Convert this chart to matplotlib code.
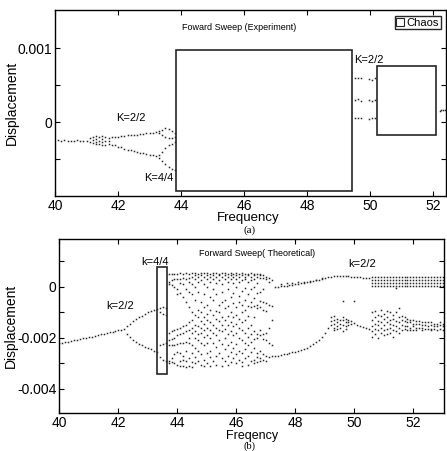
import matplotlib
matplotlib.use("Agg")
import matplotlib.pyplot as plt
from matplotlib.patches import Rectangle
from matplotlib.lines import Line2D
import numpy as np

plt.rcParams["font.family"] = ["Liberation Sans", "DejaVu Sans"]

# ----------------------------------------------------------------------
# (a) experiment, displacement in units of 1e-3
# ----------------------------------------------------------------------
exp_p1_f = [40.1, 40.2, 40.3, 40.4, 40.5, 40.6, 40.7, 40.8, 40.9, 41.0]
exp_p1_y = [-0.24, -0.25, -0.24, -0.25, -0.26, -0.25, -0.24, -0.25, -0.26, -0.25]

exp_mix_f = [41.1, 41.2, 41.3, 41.4, 41.5, 41.6, 41.7, 41.8]
exp_mix_y = [[-0.22, -0.27], [-0.2, -0.24, -0.28], [-0.19, -0.23, -0.27, -0.3],
             [-0.2, -0.25, -0.3], [-0.19, -0.23, -0.27, -0.31], [-0.2, -0.26, -0.31],
             [-0.21, -0.25, -0.3], [-0.2, -0.31]]

exp_p2_f = [41.9, 42.0, 42.1, 42.2, 42.3, 42.4, 42.5, 42.6, 42.7, 42.8, 42.9, 43.0, 43.1, 43.2]
exp_p2_hi = [-0.2, -0.2, -0.19, -0.19, -0.18, -0.18, -0.17, -0.17, -0.16, -0.16, -0.15, -0.15, -0.14, -0.13]
exp_p2_lo = [-0.31, -0.33, -0.34, -0.36, -0.37, -0.38, -0.39, -0.4, -0.41, -0.42, -0.43, -0.44, -0.45, -0.46]

exp_p4_f = [43.3, 43.4, 43.5, 43.6, 43.7, 43.8]
exp_p4_a = [-0.12, -0.1, -0.08, -0.09, -0.12, -0.15]
exp_p4_b = [-0.15, -0.17, -0.2, -0.22, -0.22, -0.2]
exp_p4_c = [-0.44, -0.4, -0.35, -0.31, -0.29, -0.27]
exp_p4_d = [-0.48, -0.52, -0.57, -0.6, -0.63, -0.64]

exp_r_f = [49.5, 49.6, 49.7, 49.95, 50.05, 50.15, 49.5, 49.6, 49.7, 49.95, 50.05, 50.15,
           49.5, 49.6, 49.7, 49.95, 50.05, 50.15, 52.2, 52.25, 52.3, 52.35]
exp_r_y = [0.6, 0.59, 0.6, 0.58, 0.57, 0.6, 0.3, 0.31, 0.29, 0.3, 0.28, 0.3,
           0.06, 0.05, 0.05, 0.04, 0.06, 0.05, 0.15, 0.16, 0.16, 0.17]

# ----------------------------------------------------------------------
# (b) theory, displacement in units of 1e-3
# ----------------------------------------------------------------------
th_p1_f = [40.0, 40.1, 40.2, 40.3, 40.4, 40.5, 40.6, 40.7, 40.8, 40.9, 41.0, 41.1,
           41.2, 41.3, 41.4, 41.5, 41.6, 41.7, 41.8, 41.9, 42.0, 42.1, 42.2]
th_p1_y = [-2.22, -2.19, -2.17, -2.15, -2.12, -2.1, -2.07, -2.05, -2.02, -2.0, -1.97, -1.95,
           -1.92, -1.9, -1.87, -1.85, -1.82, -1.79, -1.77, -1.74, -1.71, -1.68, -1.65]

th_p2_f = [42.3, 42.4, 42.5, 42.6, 42.7, 42.8, 42.9, 43.0, 43.1, 43.2, 43.3]
th_p2_hi = [-1.55, -1.45, -1.35, -1.27, -1.2, -1.13, -1.06, -1.0, -0.95, -0.9, -0.86]
th_p2_lo = [-1.85, -1.98, -2.08, -2.16, -2.23, -2.3, -2.36, -2.41, -2.45, -2.5, -2.54]

th_p4_f = [43.4, 43.5, 43.6]
th_p4_y = [[-0.82, -1.0, -2.3, -2.75], [-0.8, -1.05, -2.25, -2.85], [-0.85, -1.1, -2.2, -2.9]]

chaos_f = [43.7, 43.8, 43.9, 44.0, 44.1, 44.2, 44.3, 44.4, 44.5, 44.6, 44.7, 44.8,
           44.9, 45.0, 45.1, 45.2, 45.3, 45.4, 45.5, 45.6, 45.7, 45.8, 45.9, 46.0,
           46.1, 46.2, 46.3, 46.4, 46.5, 46.6, 46.7, 46.8, 46.9, 47.0, 47.1, 47.2]
chaos_y = [
    [0.5, 0.2, 0.1, -1.8, -2.1, -2.3, -2.9, -3.0],
    [0.5, 0.25, 0.05, -1.75, -2.05, -2.3, -2.8, -2.95],
    [0.5, 0.3, 0.0, -1.7, -2.0, -2.3, -2.65, -3.0],
    [0.5, 0.3, -0.1, -0.3, -1.65, -1.9, -2.25, -2.55, -3.05],
    [0.55, 0.3, 0.15, -0.25, -1.6, -1.85, -2.2, -2.6, -2.9, -3.1],
    [0.5, 0.35, 0.1, -0.4, -1.55, -1.8, -2.2, -2.7, -2.85, -3.1],
    [0.55, 0.3, -0.1, -0.6, -1.5, -1.75, -2.15, -2.5, -2.9, -3.15],
    [0.5, 0.35, 0.2, -0.2, -0.8, -1.4, -1.7, -2.0, -2.2, -2.8, -3.1],
    [0.55, 0.4, 0.1, -0.3, -1.0, -1.3, -1.6, -1.8, -2.3, -2.6, -2.95, -3.15],
    [0.55, 0.45, 0.3, 0.0, -0.5, -1.1, -1.5, -1.75, -2.0, -2.4, -2.75, -3.0],
    [0.5, 0.4, 0.2, -0.2, -0.9, -1.2, -1.55, -1.85, -2.1, -2.5, -2.9],
    [0.55, 0.45, 0.25, -0.6, -1.0, -1.35, -1.6, -1.8, -2.2, -2.65, -3.05],
    [0.55, 0.4, 0.1, -0.3, -0.8, -1.2, -1.45, -1.7, -1.95, -2.3, -2.85, -3.1],
    [0.55, 0.45, 0.3, 0.0, -0.7, -1.05, -1.3, -1.6, -1.9, -2.2, -2.6, -3.0],
    [0.5, 0.4, 0.2, -0.4, -0.9, -1.4, -1.7, -2.0, -2.5, -2.75, -3.1],
    [0.55, 0.45, 0.3, -0.1, -0.5, -1.1, -1.5, -1.8, -2.2, -2.9],
    [0.55, 0.4, 0.15, -0.3, -0.95, -1.25, -1.6, -1.9, -2.35, -2.7, -3.05],
    [0.5, 0.45, 0.25, -0.7, -1.0, -1.35, -1.7, -2.1, -2.6],
    [0.55, 0.4, 0.1, -0.2, -0.6, -1.2, -1.5, -1.75, -2.25, -2.8, -3.1],
    [0.55, 0.45, 0.3, -0.5, -0.85, -1.3, -1.65, -2.0, -2.45, -2.9],
    [0.5, 0.4, 0.2, -0.1, -0.75, -1.15, -1.5, -1.85, -2.3, -2.7, -3.05],
    [0.55, 0.45, 0.3, -0.4, -1.0, -1.4, -1.75, -2.15, -2.55, -2.95],
    [0.5, 0.4, 0.15, -0.25, -0.65, -1.2, -1.55, -1.9, -2.4, -2.8],
    [0.55, 0.45, 0.3, 0.0, -0.8, -1.1, -1.45, -1.8, -2.25, -2.65, -3.0],
    [0.5, 0.4, 0.2, -0.35, -0.6, -1.25, -1.6, -2.0, -2.5, -2.85],
    [0.55, 0.45, 0.25, -0.15, -0.7, -1.0, -1.4, -1.7, -2.1, -2.6, -2.95, -3.1],
    [0.5, 0.4, 0.3, -0.05, -0.5, -0.9, -1.3, -1.8, -2.2, -2.45, -2.8],
    [0.5, 0.45, 0.2, -0.3, -0.75, -1.15, -1.6, -1.95, -2.3, -2.7, -3.05],
    [0.55, 0.4, 0.25, -0.1, -0.6, -0.8, -1.5, -1.85, -2.15, -2.55, -2.9],
    [0.5, 0.45, 0.3, 0.0, -0.45, -0.75, -1.2, -1.75, -2.05, -2.4, -2.85, -3.0],
    [0.5, 0.4, 0.15, -0.25, -0.7, -0.85, -1.85, -2.0, -2.6, -2.75, -2.95],
    [0.5, 0.45, 0.35, -0.2, -0.55, -0.8, -1.7, -1.9, -2.5, -2.8, -2.9],
    [0.45, 0.35, -0.1, -0.6, -0.9, -1.85, -2.05, -2.65, -2.85],
    [0.4, 0.3, -0.65, -0.95, -1.8, -2.1, -2.7, -2.9],
    [0.35, 0.2, -0.7, -1.6, -2.2, -2.75],
    [0.25, -0.75, -1.3, -2.3, -2.7],
]

th_up_f = [47.3, 47.4, 47.5, 47.6, 47.7, 47.8, 47.9, 48.0, 48.1, 48.2, 48.3, 48.4,
           48.5, 48.6, 48.7, 48.8, 48.9, 49.0, 49.1, 49.2, 49.3, 49.4, 49.5, 49.6,
           49.7, 49.8, 49.9, 50.0, 50.1, 50.2, 50.3, 50.4, 50.5]
th_up_y = [0.0, 0.0, 0.02, 0.03, 0.04, 0.05, 0.07, 0.09, 0.11, 0.13, 0.15, 0.17,
           0.2, 0.22, 0.25, 0.28, 0.31, 0.34, 0.37, 0.4, 0.42, 0.42, 0.42, 0.42,
           0.41, 0.41, 0.4, 0.39, 0.38, 0.37, 0.36, 0.35, 0.35]
th_up2_f = [47.5, 47.7, 47.9, 48.1, 48.3, 48.5, 48.7, 48.9]
th_up2_y = [0.12, 0.14, 0.16, 0.18, 0.2, 0.24, 0.28, 0.33]

th_band_f = [50.6, 50.7, 50.8, 50.9, 51.0, 51.1, 51.2, 51.3, 51.4, 51.5, 51.6, 51.7,
             51.8, 51.9, 52.0, 52.1, 52.2, 52.3, 52.4, 52.5, 52.6, 52.7, 52.8, 52.9, 53.0]
th_band_y = [0.4, 0.28, 0.16, 0.04]

th_lo_f = [47.3, 47.4, 47.5, 47.6, 47.7, 47.8, 47.9, 48.0, 48.1, 48.2, 48.3, 48.4,
           48.5, 48.6, 48.7, 48.8, 48.9, 49.0, 49.1]
th_lo_y = [-2.72, -2.7, -2.67, -2.65, -2.62, -2.6, -2.57, -2.55, -2.52, -2.48, -2.43, -2.38,
           -2.32, -2.25, -2.17, -2.07, -1.95, -1.8, -1.6]

th_c2_f = [49.2, 49.3, 49.4, 49.5, 49.6, 49.7, 49.8, 49.9]
th_c2_y = [[-1.2, -1.35, -1.5], [-1.15, -1.3, -1.45, -1.6, -1.7], [-1.25, -1.4, -1.55, -1.65],
           [-1.3, -1.45, -1.6], [-1.2, -1.3, -1.5, -1.75], [-1.25, -1.4, -1.55, -1.65],
           [-1.3, -1.4, -1.5], [-1.35, -1.45]]

th_tail_f = [50.0, 50.1, 50.2, 50.3, 50.4, 50.5]
th_tail_y = [-1.42, -1.48, -1.53, -1.58, -1.62, -1.66]

th_c3_f = [50.6, 50.7, 50.8, 50.9, 51.0, 51.1, 51.2, 51.3, 51.4, 51.5, 51.6, 51.7]
th_c3_y = [[-1.0, -1.3, -1.55, -1.75, -1.95], [-0.95, -1.2, -1.45, -1.65, -1.85],
           [-1.1, -1.35, -1.5, -1.7, -2.0], [-0.9, -1.15, -1.4, -1.6, -1.8],
           [-1.05, -1.25, -1.5, -1.7, -1.9], [-0.95, -1.2, -1.4, -1.65, -1.85],
           [-1.0, -1.3, -1.45, -1.6, -1.8], [-1.1, -1.25, -1.5, -1.7, -1.95],
           [-1.0, -1.35, -1.55, -1.75], [-0.85, -1.2, -1.4, -1.6, -1.8],
           [-1.15, -1.3, -1.5, -1.7], [-1.2, -1.35, -1.55, -1.65]]

th_c4_f = [51.8, 51.9, 52.0, 52.1, 52.2, 52.3, 52.4, 52.5, 52.6, 52.7, 52.8, 52.9, 53.0]
th_c4_y = [[-1.25, -1.4, -1.55, -1.7], [-1.3, -1.4, -1.6, -1.7], [-1.3, -1.45, -1.55, -1.7],
           [-1.35, -1.45, -1.6, -1.7], [-1.35, -1.45, -1.6], [-1.4, -1.5, -1.6, -1.7],
           [-1.4, -1.5, -1.65], [-1.4, -1.55, -1.65], [-1.4, -1.5, -1.65, -1.7],
           [-1.45, -1.55, -1.65], [-1.45, -1.55, -1.7], [-1.4, -1.5, -1.65], [-1.45, -1.55, -1.7]]

th_iso_f = [49.6, 50.0, 51.4]
th_iso_y = [-0.55, -0.55, -0.05]

DOT = dict(ls="none", marker="s", ms=1.1, mew=0, color="0.15")


def dots(ax, f, y):
    ax.plot(f, np.array(y) * 1e-3, **DOT)


def columns(ax, fs, ys):
    for f, col in zip(fs, ys):
        dots(ax, [f] * len(col), col)


def style(ax):
    ax.tick_params(direction="in", top=True, right=True, length=3.5, width=0.8,
                   labelsize=10, pad=2)
    for s in ax.spines.values():
        s.set_linewidth(1.0)


fig = plt.figure(figsize=(4.47, 4.51), dpi=100)

# ----------------------------------------------------------------------
# Panel (a)
# ----------------------------------------------------------------------
ax1 = fig.add_axes([0.123, 0.565, 0.875, 0.412])
dots(ax1, exp_p1_f, exp_p1_y)
columns(ax1, exp_mix_f, exp_mix_y)
dots(ax1, exp_p2_f, exp_p2_hi)
dots(ax1, exp_p2_f, exp_p2_lo)
for branch in (exp_p4_a, exp_p4_b, exp_p4_c, exp_p4_d):
    dots(ax1, exp_p4_f, branch)
dots(ax1, exp_r_f, exp_r_y)

ax1.add_patch(Rectangle((43.85, -0.93e-3), 49.42 - 43.85, 0.98e-3 + 0.93e-3,
                        fill=False, lw=1.2, ec="0.15"))
ax1.add_patch(Rectangle((50.21, -0.17e-3), 52.08 - 50.21, 0.76e-3 + 0.17e-3,
                        fill=False, lw=1.2, ec="0.15"))

ax1.set_xlim(40, 52.4)
ax1.set_ylim(-1.0e-3, 1.51e-3)
ax1.set_xticks([40, 42, 44, 46, 48, 50, 52])
ax1.set_yticks([-0.5e-3, 0, 0.5e-3, 1e-3])
ax1.set_yticklabels(["", "0", "", "0.001"])
style(ax1)

ax1.text(45.85, 1.28e-3, "Foward Sweep (Experiment)", fontsize=6.5,
         ha="center", va="center")
ax1.text(42.4, 0.05e-3, "K=2/2", fontsize=8, ha="center", va="center")
ax1.text(43.3, -0.76e-3, "K=4/4", fontsize=8, ha="center", va="center")
ax1.text(49.95, 0.84e-3, "K=2/2", fontsize=8, ha="center", va="center")
chaos_handle = Line2D([], [], ls="none", marker="s", ms=6, mfc="none", mec="0.15", mew=0.8)
ax1.legend([chaos_handle], ["Chaos"], loc="upper right", fontsize=8, frameon=True,
           fancybox=False, edgecolor="0.15", framealpha=1, handlelength=0.6,
           handletextpad=0.3, borderpad=0.15, borderaxespad=0.5)

# ----------------------------------------------------------------------
# Panel (b)
# ----------------------------------------------------------------------
ax2 = fig.add_axes([0.133, 0.084, 0.861, 0.386])
dots(ax2, th_p1_f, th_p1_y)
dots(ax2, th_p2_f, th_p2_hi)
dots(ax2, th_p2_f, th_p2_lo)
columns(ax2, th_p4_f, th_p4_y)
columns(ax2, chaos_f, chaos_y)
dots(ax2, th_up_f, th_up_y)
dots(ax2, th_up2_f, th_up2_y)
columns(ax2, th_band_f, [th_band_y] * len(th_band_f))
dots(ax2, th_lo_f, th_lo_y)
columns(ax2, th_c2_f, th_c2_y)
dots(ax2, th_tail_f, th_tail_y)
columns(ax2, th_c3_f, th_c3_y)
columns(ax2, th_c4_f, th_c4_y)
dots(ax2, th_iso_f, th_iso_y)

ax2.add_patch(Rectangle((43.3, -3.4e-3), 43.64 - 43.3, 0.76e-3 + 3.4e-3,
                        fill=False, lw=1.2, ec="0.15"))

ax2.set_xlim(40, 53.05)
ax2.set_ylim(-4.95e-3, 1.87e-3)
ax2.set_xticks([40, 42, 44, 46, 48, 50, 52])
ax2.set_yticks([-4e-3, -3e-3, -2e-3, -1e-3, 0, 1e-3])
ax2.set_yticklabels(["-0.004", "", "-0.002", "", "0", ""])
style(ax2)

ax2.text(46.7, 1.31e-3, "Forward Sweep( Theoretical)", fontsize=6.5,
         ha="center", va="center")
ax2.text(43.25, 0.98e-3, "k=4/4", fontsize=8, ha="center", va="center")
ax2.text(42.05, -0.76e-3, "k=2/2", fontsize=8, ha="center", va="center")
ax2.text(50.25, 0.88e-3, "k=2/2", fontsize=8, ha="center", va="center")

# ----------------------------------------------------------------------
# Labels outside the axes
# ----------------------------------------------------------------------
fig.text(248 / 447, 1 - 218 / 451, "Frequency", fontsize=9.5, ha="center", va="center")
fig.text(250 / 447, 1 - 230 / 451, "(a)", fontsize=8, ha="center", va="center",
         family=["Liberation Serif", "DejaVu Serif"])
fig.text(12 / 447, 1 - 103 / 451, "Displacement", fontsize=10, rotation=90,
         ha="center", va="center")

fig.text(252 / 447, 1 - 436 / 451, "Freqency", fontsize=9, ha="center", va="center")
fig.text(250 / 447, 1 - 446 / 451, "(b)", fontsize=7.5, ha="center", va="center",
         family=["Liberation Serif", "DejaVu Serif"])
fig.text(11 / 447, 1 - 326 / 451, "Displacement", fontsize=10, rotation=90,
         ha="center", va="center")

fig.savefig("out.png", dpi=100)
